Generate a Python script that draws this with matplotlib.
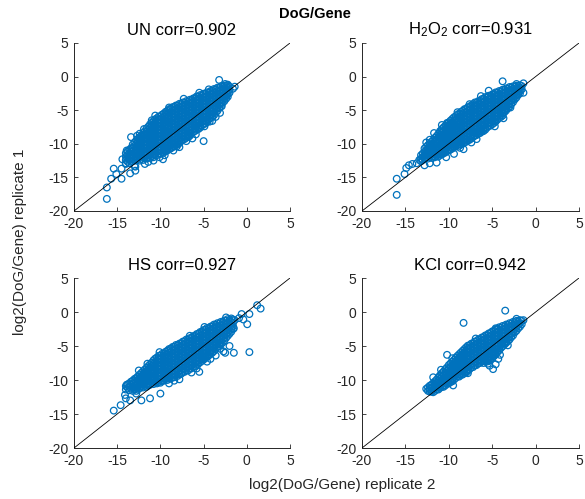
import matplotlib
matplotlib.use("Agg")
import matplotlib.pyplot as plt

plt.rcParams['font.family'] = ['Liberation Sans', 'DejaVu Sans']
plt.rcParams['mathtext.fontset'] = 'custom'
plt.rcParams['mathtext.rm'] = 'Liberation Sans'
plt.rcParams['mathtext.it'] = 'Liberation Sans:italic'
plt.rcParams['mathtext.bf'] = 'Liberation Sans:bold'
plt.rcParams['mathtext.default'] = 'regular'

# ---------------------------------------------------------------------------
# Panel titles and axis ticks
# ---------------------------------------------------------------------------
titles = ["UN corr=0.902", r"H$_2$O$_2$ corr=0.931",
          "HS corr=0.927", "KCl corr=0.942"]
ticks = [-20, -15, -10, -5, 0, 5]
tick_labels = ["-20", "-15", "-10", "-5", "0", "5"]

# ---------------------------------------------------------------------------
# log2(DoG/Gene): replicate 2 (x) vs replicate 1 (y)
# dense part of each cloud, stored column by column (two interleaved sets),
# followed by the scattered points around it
# ---------------------------------------------------------------------------
un_col_x = [-14.0, -13.6, -13.2, -12.8, -12.4, -12.0, -11.6, -11.2, -10.8,
            -10.4, -10.0, -9.6, -9.2, -8.8, -8.4, -8.0, -7.6, -7.2, -6.8,
            -6.4, -6.0, -5.6, -5.2, -4.8, -4.4, -4.0, -3.6, -3.2, -2.8,
            -2.4, -2.0]
un_col_y = [
    [-11.4, -11.9, -12.4, -12.9],
    [-10.9, -11.4, -11.9, -12.4, -12.9],
    [-10.1, -10.6, -11.1, -11.6, -12.1, -12.6],
    [-9.5, -10.0, -10.5, -11.0, -11.5, -12.0, -12.5],
    [-9.0, -9.5, -10.0, -10.5, -11.0, -11.5, -12.0, -12.5],
    [-8.4, -8.9, -9.4, -9.9, -10.4, -10.9, -11.4, -11.9, -12.4],
    [-7.7, -8.2, -8.7, -9.2, -9.7, -10.2, -10.7, -11.2, -11.7, -12.2],
    [-7.1, -7.6, -8.1, -8.6, -9.1, -9.6, -10.1, -10.6, -11.1, -11.6, -12.1],
    [-6.6, -7.1, -7.6, -8.1, -8.6, -9.1, -9.6, -10.1, -10.6, -11.1, -11.6, -12.0],
    [-6.2, -6.7, -7.2, -7.7, -8.2, -8.7, -9.2, -9.7, -10.2, -10.7, -11.2, -11.7],
    [-5.9, -6.4, -6.9, -7.4, -7.9, -8.4, -8.9, -9.4, -9.9, -10.4, -10.9, -11.5],
    [-5.5, -6.0, -6.5, -7.0, -7.5, -8.0, -8.5, -9.0, -9.5, -10.0, -10.5, -11.0, -11.3],
    [-5.1, -5.6, -6.1, -6.6, -7.1, -7.6, -8.1, -8.6, -9.1, -9.6, -10.1, -10.6, -11.0],
    [-4.8, -5.3, -5.8, -6.3, -6.8, -7.3, -7.8, -8.3, -8.8, -9.3, -9.8, -10.3, -10.7],
    [-4.5, -5.0, -5.5, -6.0, -6.5, -7.0, -7.5, -8.0, -8.5, -9.0, -9.5, -10.0, -10.4],
    [-4.3, -4.8, -5.3, -5.8, -6.3, -6.8, -7.3, -7.8, -8.3, -8.8, -9.3, -9.8, -10.1],
    [-4.1, -4.6, -5.1, -5.6, -6.1, -6.6, -7.1, -7.6, -8.1, -8.6, -9.1, -9.6],
    [-3.9, -4.4, -4.9, -5.4, -5.9, -6.4, -6.9, -7.4, -7.9, -8.4, -8.9, -9.3],
    [-3.7, -4.2, -4.7, -5.2, -5.7, -6.2, -6.7, -7.2, -7.7, -8.2, -8.7, -9.0],
    [-3.5, -4.0, -4.5, -5.0, -5.5, -6.0, -6.5, -7.0, -7.5, -8.0, -8.5],
    [-3.2, -3.7, -4.2, -4.7, -5.2, -5.7, -6.2, -6.7, -7.2, -7.7, -8.1],
    [-3.0, -3.5, -4.0, -4.5, -5.0, -5.5, -6.0, -6.5, -7.0, -7.5, -7.8],
    [-2.8, -3.3, -3.8, -4.3, -4.8, -5.3, -5.8, -6.3, -6.8, -7.3],
    [-2.6, -3.1, -3.6, -4.1, -4.6, -5.1, -5.6, -6.1, -6.6, -7.0],
    [-2.4, -2.9, -3.4, -3.9, -4.4, -4.9, -5.4, -5.9, -6.4],
    [-2.1, -2.6, -3.1, -3.6, -4.1, -4.6, -5.1, -5.6, -6.0],
    [-1.9, -2.4, -2.9, -3.4, -3.9, -4.4, -4.9, -5.4],
    [-1.7, -2.2, -2.7, -3.2, -3.7, -4.2, -4.7],
    [-1.5, -2.0, -2.5, -3.0, -3.5, -3.9],
    [-1.4, -1.9, -2.4, -2.9, -3.3],
    [-1.5, -2.0, -2.4],
]
un_mid_x = [-13.8, -13.4, -13.0, -12.6, -12.2, -11.8, -11.4, -11.0, -10.6,
            -10.2, -9.8, -9.4, -9.0, -8.6, -8.2, -7.8, -7.4, -7.0, -6.6,
            -6.2, -5.8, -5.4, -5.0, -4.6, -4.2, -3.8, -3.4, -3.0, -2.6,
            -2.2]
un_mid_y = [
    [-11.15, -11.65, -12.15, -12.65],
    [-10.65, -11.15, -11.65, -12.15, -12.65],
    [-9.85, -10.35, -10.85, -11.35, -11.85, -12.35],
    [-9.25, -9.75, -10.25, -10.75, -11.25, -11.75, -12.25],
    [-8.75, -9.25, -9.75, -10.25, -10.75, -11.25, -11.75, -12.25],
    [-8.15, -8.65, -9.15, -9.65, -10.15, -10.65, -11.15, -11.65, -12.15],
    [-7.45, -7.95, -8.45, -8.95, -9.45, -9.95, -10.45, -10.95, -11.45, -11.95],
    [-6.85, -7.35, -7.85, -8.35, -8.85, -9.35, -9.85, -10.35, -10.85, -11.35, -11.85],
    [-6.35, -6.85, -7.35, -7.85, -8.35, -8.85, -9.35, -9.85, -10.35, -10.85, -11.35, -11.75],
    [-5.95, -6.45, -6.95, -7.45, -7.95, -8.45, -8.95, -9.45, -9.95, -10.45, -10.95, -11.45],
    [-5.65, -6.15, -6.65, -7.15, -7.65, -8.15, -8.65, -9.15, -9.65, -10.15, -10.65, -11.2],
    [-5.25, -5.75, -6.25, -6.75, -7.25, -7.75, -8.25, -8.75, -9.25, -9.75, -10.25, -10.75, -11.1],
    [-4.85, -5.35, -5.85, -6.35, -6.85, -7.35, -7.85, -8.35, -8.85, -9.35, -9.85, -10.35, -10.8],
    [-4.55, -5.05, -5.55, -6.05, -6.55, -7.05, -7.55, -8.05, -8.55, -9.05, -9.55, -10.05, -10.5],
    [-4.3, -4.75, -5.25, -5.75, -6.25, -6.75, -7.25, -7.75, -8.25, -8.75, -9.25, -9.75, -10.2],
    [-4.05, -4.55, -5.05, -5.55, -6.05, -6.55, -7.05, -7.55, -8.05, -8.55, -9.05, -9.55, -9.9],
    [-3.85, -4.35, -4.85, -5.35, -5.85, -6.35, -6.85, -7.35, -7.85, -8.35, -8.85, -9.35],
    [-3.65, -4.15, -4.65, -5.15, -5.65, -6.15, -6.65, -7.15, -7.65, -8.15, -8.65, -9.1],
    [-3.45, -3.95, -4.45, -4.95, -5.45, -5.95, -6.45, -6.95, -7.45, -7.95, -8.45, -8.8],
    [-3.25, -3.75, -4.25, -4.75, -5.25, -5.75, -6.25, -6.75, -7.25, -7.75, -8.25],
    [-2.95, -3.45, -3.95, -4.45, -4.95, -5.45, -5.95, -6.45, -6.95, -7.45, -7.9],
    [-2.75, -3.25, -3.75, -4.25, -4.75, -5.25, -5.75, -6.25, -6.75, -7.25, -7.6],
    [-2.55, -3.05, -3.55, -4.05, -4.55, -5.05, -5.55, -6.05, -6.55, -7.05],
    [-2.35, -2.85, -3.35, -3.85, -4.35, -4.85, -5.35, -5.85, -6.35, -6.75],
    [-2.15, -2.65, -3.15, -3.65, -4.15, -4.65, -5.15, -5.65, -6.15],
    [-1.85, -2.35, -2.85, -3.35, -3.85, -4.35, -4.85, -5.35, -5.75],
    [-1.65, -2.15, -2.65, -3.15, -3.65, -4.15, -4.65, -5.1],
    [-1.45, -1.95, -2.45, -2.95, -3.45, -3.95, -4.4],
    [-1.35, -1.75, -2.25, -2.75, -3.25, -3.65],
    [-1.3, -1.65, -2.15, -2.65, -3.0],
]
un_out_x = [-3.2, -4.4, -5.0, -4.3, -4.0, -9.7, -13.4, -12.4, -12.0, -11.3,
            -15.4, -14.5, -15.1, -15.7, -14.5, -13.5, -12.9, -16.2, -16.2,
            -14.0, -1.6, -1.4, -2.5, -6.7, -7.8, -8.5, -10.8, -11.4, -13.0,
            -14.4, -13.9, -7.3, -5.5, -9.0, -10.6, -11.9, -3.6, -3.1, -2.9,
            -6.3, -11.8, -12.7, -5.9, -8.1, -10.1, -12.9, -2.2, -4.9, -7.0,
            -9.5, -11.0]
un_out_y = [-0.5, -1.9, -9.6, -6.7, -6.6, -12.3, -9.0, -8.5, -8.7, -8.9,
            -13.7, -13.7, -14.5, -15.2, -15.2, -14.4, -14.0, -16.5, -18.2,
            -13.0, -1.8, -1.5, -1.1, -8.9, -10.5, -11.0, -12.5, -12.7, -13.3,
            -12.3, -11.0, -3.3, -2.4, -4.6, -5.8, -7.8, -6.0, -5.4, -4.4,
            -9.2, -13.0, -8.8, -8.6, -10.4, -12.0, -13.4, -1.2, -7.4, -9.6,
            -11.7, -6.5]

h2o2_col_x = [-13.2, -12.8, -12.4, -12.0, -11.6, -11.2, -10.8, -10.4, -10.0,
              -9.6, -9.2, -8.8, -8.4, -8.0, -7.6, -7.2, -6.8, -6.4, -6.0,
              -5.6, -5.2, -4.8, -4.4, -4.0, -3.6, -3.2, -2.8, -2.4, -2.0,
              -1.6]
h2o2_col_y = [
    [-11.7, -12.2, -12.6],
    [-10.7, -11.2, -11.7, -12.2],
    [-10.2, -10.7, -11.2, -11.7, -12.2],
    [-9.7, -10.2, -10.7, -11.2, -11.7, -12.1],
    [-9.1, -9.6, -10.1, -10.6, -11.1, -11.6, -12.0],
    [-8.5, -9.0, -9.5, -10.0, -10.5, -11.0, -11.5, -11.9],
    [-7.8, -8.3, -8.8, -9.3, -9.8, -10.3, -10.8, -11.3, -11.6],
    [-7.3, -7.8, -8.3, -8.8, -9.3, -9.8, -10.3, -10.8, -11.3],
    [-6.8, -7.3, -7.8, -8.3, -8.8, -9.3, -9.8, -10.3, -10.8, -11.0],
    [-6.3, -6.8, -7.3, -7.8, -8.3, -8.8, -9.3, -9.8, -10.3, -10.7],
    [-5.9, -6.4, -6.9, -7.4, -7.9, -8.4, -8.9, -9.4, -9.9, -10.4],
    [-5.5, -6.0, -6.5, -7.0, -7.5, -8.0, -8.5, -9.0, -9.5, -10.0, -10.3],
    [-5.1, -5.6, -6.1, -6.6, -7.1, -7.6, -8.1, -8.6, -9.1, -9.6, -10.0],
    [-4.8, -5.3, -5.8, -6.3, -6.8, -7.3, -7.8, -8.3, -8.8, -9.3, -9.7],
    [-4.5, -5.0, -5.5, -6.0, -6.5, -7.0, -7.5, -8.0, -8.5, -9.0, -9.4],
    [-4.1, -4.6, -5.1, -5.6, -6.1, -6.6, -7.1, -7.6, -8.1, -8.6, -9.0],
    [-3.9, -4.4, -4.9, -5.4, -5.9, -6.4, -6.9, -7.4, -7.9, -8.4, -8.7],
    [-3.6, -4.1, -4.6, -5.1, -5.6, -6.1, -6.6, -7.1, -7.6, -8.1, -8.4],
    [-3.3, -3.8, -4.3, -4.8, -5.3, -5.8, -6.3, -6.8, -7.3, -7.8, -8.1],
    [-3.1, -3.6, -4.1, -4.6, -5.1, -5.6, -6.1, -6.6, -7.1, -7.6],
    [-2.9, -3.4, -3.9, -4.4, -4.9, -5.4, -5.9, -6.4, -6.9, -7.3],
    [-2.6, -3.1, -3.6, -4.1, -4.6, -5.1, -5.6, -6.1, -6.6, -6.9],
    [-2.4, -2.9, -3.4, -3.9, -4.4, -4.9, -5.4, -5.9, -6.4],
    [-2.2, -2.7, -3.2, -3.7, -4.2, -4.7, -5.2, -5.7, -6.0],
    [-2.0, -2.5, -3.0, -3.5, -4.0, -4.5, -5.0, -5.3],
    [-1.8, -2.3, -2.8, -3.3, -3.8, -4.3, -4.7],
    [-1.6, -2.1, -2.6, -3.1, -3.6, -4.1],
    [-1.5, -2.0, -2.5, -3.0, -3.4],
    [-1.4, -1.9, -2.4, -2.7],
    [-1.4, -1.9],
]
h2o2_mid_x = [-13.0, -12.6, -12.2, -11.8, -11.4, -11.0, -10.6, -10.2, -9.8,
              -9.4, -9.0, -8.6, -8.2, -7.8, -7.4, -7.0, -6.6, -6.2, -5.8,
              -5.4, -5.0, -4.6, -4.2, -3.8, -3.4, -3.0, -2.6, -2.2, -1.8]
h2o2_mid_y = [
    [-11.45, -11.95, -12.4],
    [-10.45, -10.95, -11.45, -11.95],
    [-9.95, -10.45, -10.95, -11.45, -11.95],
    [-9.45, -9.95, -10.45, -10.95, -11.45, -11.85],
    [-8.85, -9.35, -9.85, -10.35, -10.85, -11.35, -11.75],
    [-8.25, -8.75, -9.25, -9.75, -10.25, -10.75, -11.25, -11.65],
    [-7.55, -8.05, -8.55, -9.05, -9.55, -10.05, -10.55, -11.05, -11.4],
    [-7.05, -7.55, -8.05, -8.55, -9.05, -9.55, -10.05, -10.55, -11.05],
    [-6.55, -7.05, -7.55, -8.05, -8.55, -9.05, -9.55, -10.05, -10.55, -10.85],
    [-6.05, -6.55, -7.05, -7.55, -8.05, -8.55, -9.05, -9.55, -10.05, -10.5],
    [-5.65, -6.15, -6.65, -7.15, -7.65, -8.15, -8.65, -9.15, -9.65, -10.15],
    [-5.25, -5.75, -6.25, -6.75, -7.25, -7.75, -8.25, -8.75, -9.25, -9.75, -10.1],
    [-4.85, -5.35, -5.85, -6.35, -6.85, -7.35, -7.85, -8.35, -8.85, -9.35, -9.8],
    [-4.55, -5.05, -5.55, -6.05, -6.55, -7.05, -7.55, -8.05, -8.55, -9.05, -9.5],
    [-4.25, -4.75, -5.25, -5.75, -6.25, -6.75, -7.25, -7.75, -8.25, -8.75, -9.2],
    [-3.85, -4.35, -4.85, -5.35, -5.85, -6.35, -6.85, -7.35, -7.85, -8.35, -8.8],
    [-3.65, -4.15, -4.65, -5.15, -5.65, -6.15, -6.65, -7.15, -7.65, -8.15, -8.5],
    [-3.35, -3.85, -4.35, -4.85, -5.35, -5.85, -6.35, -6.85, -7.35, -7.85, -8.2],
    [-3.05, -3.55, -4.05, -4.55, -5.05, -5.55, -6.05, -6.55, -7.05, -7.55, -7.9],
    [-2.85, -3.35, -3.85, -4.35, -4.85, -5.35, -5.85, -6.35, -6.85, -7.35],
    [-2.65, -3.15, -3.65, -4.15, -4.65, -5.15, -5.65, -6.15, -6.65, -7.1],
    [-2.35, -2.85, -3.35, -3.85, -4.35, -4.85, -5.35, -5.85, -6.35, -6.7],
    [-2.15, -2.65, -3.15, -3.65, -4.15, -4.65, -5.15, -5.65, -6.15],
    [-1.95, -2.45, -2.95, -3.45, -3.95, -4.45, -4.95, -5.45, -5.8],
    [-1.75, -2.25, -2.75, -3.25, -3.75, -4.25, -4.75, -5.05],
    [-1.55, -2.05, -2.55, -3.05, -3.55, -4.05, -4.45],
    [-1.45, -1.85, -2.35, -2.85, -3.35, -3.8],
    [-1.35, -1.75, -2.25, -2.75, -3.1],
    [-1.3, -1.65, -2.15, -2.5],
]
h2o2_out_x = [-3.8, -5.4, -1.4, -1.4, -5.4, -8.3, -11.0, -11.0, -14.9, -14.6,
              -13.7, -12.8, -16.0, -16.0, -13.4, -12.2, -11.4, -10.3, -9.4,
              -12.2, -11.7, -10.2, -9.0, -7.6, -4.7, -3.7, -2.9, -6.8, -14.2,
              -15.1, -2.2, -6.3, -8.7, -7.4, -10.8, -12.6]
h2o2_out_y = [-0.7, -2.1, -1.0, -2.4, -6.9, -10.8, -8.1, -8.9, -13.6, -13.2,
              -12.9, -13.2, -15.2, -17.6, -12.4, -12.9, -12.8, -12.0, -11.5,
              -9.4, -8.4, -6.9, -5.3, -4.1, -7.4, -6.2, -4.6, -9.3, -13.0,
              -14.5, -1.1, -2.9, -10.6, -9.8, -7.2, -9.8]

hs_col_x = [-14.0, -13.6, -13.2, -12.8, -12.4, -12.0, -11.6, -11.2, -10.8,
            -10.4, -10.0, -9.6, -9.2, -8.8, -8.4, -8.0, -7.6, -7.2, -6.8,
            -6.4, -6.0, -5.6, -5.2, -4.8, -4.4, -4.0, -3.6, -3.2, -2.8,
            -2.4, -2.0, -1.6]
hs_col_y = [
    [-10.9, -11.4],
    [-10.5, -11.0, -11.5],
    [-10.1, -10.6, -11.1, -11.6],
    [-9.7, -10.2, -10.7, -11.2, -11.6],
    [-9.2, -9.7, -10.2, -10.7, -11.2],
    [-8.7, -9.2, -9.7, -10.2, -10.7, -11.1],
    [-8.2, -8.7, -9.2, -9.7, -10.2, -10.7, -11.0],
    [-7.7, -8.2, -8.7, -9.2, -9.7, -10.2, -10.7],
    [-7.1, -7.6, -8.1, -8.6, -9.1, -9.6, -10.1, -10.6],
    [-6.7, -7.2, -7.7, -8.2, -8.7, -9.2, -9.7, -10.2, -10.5],
    [-6.4, -6.9, -7.4, -7.9, -8.4, -8.9, -9.4, -9.9, -10.4],
    [-6.1, -6.6, -7.1, -7.6, -8.1, -8.6, -9.1, -9.6, -10.1],
    [-5.7, -6.2, -6.7, -7.2, -7.7, -8.2, -8.7, -9.2, -9.7, -10.0],
    [-5.4, -5.9, -6.4, -6.9, -7.4, -7.9, -8.4, -8.9, -9.4, -9.8],
    [-5.1, -5.6, -6.1, -6.6, -7.1, -7.6, -8.1, -8.6, -9.1, -9.6],
    [-4.9, -5.4, -5.9, -6.4, -6.9, -7.4, -7.9, -8.4, -8.9, -9.4],
    [-4.6, -5.1, -5.6, -6.1, -6.6, -7.1, -7.6, -8.1, -8.6, -9.1],
    [-4.3, -4.8, -5.3, -5.8, -6.3, -6.8, -7.3, -7.8, -8.3, -8.8],
    [-4.1, -4.6, -5.1, -5.6, -6.1, -6.6, -7.1, -7.6, -8.1, -8.6],
    [-3.8, -4.3, -4.8, -5.3, -5.8, -6.3, -6.8, -7.3, -7.8, -8.3],
    [-3.5, -4.0, -4.5, -5.0, -5.5, -6.0, -6.5, -7.0, -7.5, -8.0],
    [-3.2, -3.7, -4.2, -4.7, -5.2, -5.7, -6.2, -6.7, -7.2, -7.6],
    [-2.9, -3.4, -3.9, -4.4, -4.9, -5.4, -5.9, -6.4, -6.9, -7.2],
    [-2.6, -3.1, -3.6, -4.1, -4.6, -5.1, -5.6, -6.1, -6.6, -6.8],
    [-2.4, -2.9, -3.4, -3.9, -4.4, -4.9, -5.4, -5.9, -6.4],
    [-2.1, -2.6, -3.1, -3.6, -4.1, -4.6, -5.1, -5.6, -6.0],
    [-1.9, -2.4, -2.9, -3.4, -3.9, -4.4, -4.9, -5.4],
    [-1.7, -2.2, -2.7, -3.2, -3.7, -4.2, -4.7, -5.0],
    [-1.5, -2.0, -2.5, -3.0, -3.5, -4.0, -4.5],
    [-1.3, -1.8, -2.3, -2.8, -3.3, -3.8],
    [-1.2, -1.7, -2.2, -2.7, -3.2],
    [-1.1, -1.6, -2.1, -2.5],
]
hs_mid_x = [-13.8, -13.4, -13.0, -12.6, -12.2, -11.8, -11.4, -11.0, -10.6,
            -10.2, -9.8, -9.4, -9.0, -8.6, -8.2, -7.8, -7.4, -7.0, -6.6,
            -6.2, -5.8, -5.4, -5.0, -4.6, -4.2, -3.8, -3.4, -3.0, -2.6,
            -2.2, -1.8]
hs_mid_y = [
    [-10.65, -11.15],
    [-10.25, -10.75, -11.25],
    [-9.85, -10.35, -10.85, -11.35],
    [-9.45, -9.95, -10.45, -10.95, -11.4],
    [-8.95, -9.45, -9.95, -10.45, -10.95],
    [-8.45, -8.95, -9.45, -9.95, -10.45, -10.85],
    [-7.95, -8.45, -8.95, -9.45, -9.95, -10.45, -10.8],
    [-7.45, -7.95, -8.45, -8.95, -9.45, -9.95, -10.45],
    [-6.85, -7.35, -7.85, -8.35, -8.85, -9.35, -9.85, -10.35],
    [-6.45, -6.95, -7.45, -7.95, -8.45, -8.95, -9.45, -9.95, -10.3],
    [-6.15, -6.65, -7.15, -7.65, -8.15, -8.65, -9.15, -9.65, -10.15],
    [-5.85, -6.35, -6.85, -7.35, -7.85, -8.35, -8.85, -9.35, -9.85],
    [-5.45, -5.95, -6.45, -6.95, -7.45, -7.95, -8.45, -8.95, -9.45, -9.8],
    [-5.15, -5.65, -6.15, -6.65, -7.15, -7.65, -8.15, -8.65, -9.15, -9.6],
    [-4.85, -5.35, -5.85, -6.35, -6.85, -7.35, -7.85, -8.35, -8.85, -9.35],
    [-4.65, -5.15, -5.65, -6.15, -6.65, -7.15, -7.65, -8.15, -8.65, -9.15],
    [-4.35, -4.85, -5.35, -5.85, -6.35, -6.85, -7.35, -7.85, -8.35, -8.85],
    [-4.05, -4.55, -5.05, -5.55, -6.05, -6.55, -7.05, -7.55, -8.05, -8.55],
    [-3.85, -4.35, -4.85, -5.35, -5.85, -6.35, -6.85, -7.35, -7.85, -8.35],
    [-3.55, -4.05, -4.55, -5.05, -5.55, -6.05, -6.55, -7.05, -7.55, -8.05],
    [-3.25, -3.75, -4.25, -4.75, -5.25, -5.75, -6.25, -6.75, -7.25, -7.75],
    [-2.95, -3.45, -3.95, -4.45, -4.95, -5.45, -5.95, -6.45, -6.95, -7.4],
    [-2.65, -3.15, -3.65, -4.15, -4.65, -5.15, -5.65, -6.15, -6.65, -7.0],
    [-2.35, -2.85, -3.35, -3.85, -4.35, -4.85, -5.35, -5.85, -6.35, -6.6],
    [-2.15, -2.65, -3.15, -3.65, -4.15, -4.65, -5.15, -5.65, -6.15],
    [-1.85, -2.35, -2.85, -3.35, -3.85, -4.35, -4.85, -5.35, -5.75],
    [-1.65, -2.15, -2.65, -3.15, -3.65, -4.15, -4.65, -5.15],
    [-1.45, -1.95, -2.45, -2.95, -3.45, -3.95, -4.45, -4.75],
    [-1.25, -1.75, -2.25, -2.75, -3.25, -3.75, -4.2],
    [-1.05, -1.55, -2.05, -2.55, -3.05, -3.5],
    [-0.95, -1.45, -1.95, -2.45, -2.9],
]
hs_out_x = [1.2, 1.6, 0.3, 0.3, 0.05, -0.6, -1.4, -1.5, -1.5, -2.5, -2.0,
            -3.1, -4.9, -5.5, -10.0, -11.2, -12.2, -14.1, -13.9, -13.5,
            -14.6, -15.4, -4.2, -3.6, -4.6, -6.4, -7.8, -9.0, -11.5, -10.1,
            -6.6, -2.4, -0.9, -14.0, -12.8, -0.4, -2.7, -8.4, -5.8, -12.5]
hs_out_y = [1.0, 0.5, -5.9, -0.3, -1.8, -0.3, -1.2, -2.4, -6.0, -6.0, -5.0,
            -5.4, -2.2, -8.8, -12.0, -12.7, -13.0, -12.2, -10.7, -13.0,
            -13.7, -14.5, -6.9, -6.4, -7.3, -8.9, -9.9, -10.5, -7.6, -5.9,
            -3.5, -0.8, -0.9, -12.7, -12.0, -1.1, -5.8, -10.1, -8.3, -8.6]

kcl_col_x = [-12.4, -12.0, -11.6, -11.2, -10.8, -10.4, -10.0, -9.6, -9.2,
             -8.8, -8.4, -8.0, -7.6, -7.2, -6.8, -6.4, -6.0, -5.6, -5.2,
             -4.8, -4.4, -4.0, -3.6, -3.2, -2.8, -2.4, -2.0, -1.6]
kcl_col_y = [
    [-11.1, -11.6],
    [-10.7, -11.2, -11.7],
    [-10.2, -10.7, -11.2, -11.6],
    [-9.6, -10.1, -10.6, -11.1, -11.4],
    [-9.0, -9.5, -10.0, -10.5, -11.0],
    [-8.4, -8.9, -9.4, -9.9, -10.4, -10.8],
    [-7.8, -8.3, -8.8, -9.3, -9.8, -10.3, -10.5],
    [-7.3, -7.8, -8.3, -8.8, -9.3, -9.8, -10.2],
    [-6.7, -7.2, -7.7, -8.2, -8.7, -9.2, -9.7],
    [-6.2, -6.7, -7.2, -7.7, -8.2, -8.7, -9.2, -9.5],
    [-5.7, -6.2, -6.7, -7.2, -7.7, -8.2, -8.7, -9.2],
    [-5.2, -5.7, -6.2, -6.7, -7.2, -7.7, -8.2, -8.7, -8.9],
    [-4.9, -5.4, -5.9, -6.4, -6.9, -7.4, -7.9, -8.4],
    [-4.6, -5.1, -5.6, -6.1, -6.6, -7.1, -7.6, -8.1],
    [-4.3, -4.8, -5.3, -5.8, -6.3, -6.8, -7.3, -7.8],
    [-4.0, -4.5, -5.0, -5.5, -6.0, -6.5, -7.0, -7.5],
    [-3.7, -4.2, -4.7, -5.2, -5.7, -6.2, -6.7, -7.2, -7.5],
    [-3.4, -3.9, -4.4, -4.9, -5.4, -5.9, -6.4, -6.9, -7.3],
    [-3.1, -3.6, -4.1, -4.6, -5.1, -5.6, -6.1, -6.6, -7.0],
    [-2.8, -3.3, -3.8, -4.3, -4.8, -5.3, -5.8, -6.3, -6.5],
    [-2.5, -3.0, -3.5, -4.0, -4.5, -5.0, -5.5, -5.9],
    [-2.3, -2.8, -3.3, -3.8, -4.3, -4.8, -5.3],
    [-2.1, -2.6, -3.1, -3.6, -4.1, -4.6, -4.8],
    [-1.9, -2.4, -2.9, -3.4, -3.9, -4.3],
    [-1.7, -2.2, -2.7, -3.2, -3.7],
    [-1.5, -2.0, -2.5, -3.0],
    [-1.4, -1.9, -2.4],
    [-1.3, -1.8],
]
kcl_mid_x = [-12.2, -11.8, -11.4, -11.0, -10.6, -10.2, -9.8, -9.4, -9.0,
             -8.6, -8.2, -7.8, -7.4, -7.0, -6.6, -6.2, -5.8, -5.4, -5.0,
             -4.6, -4.2, -3.8, -3.4, -3.0, -2.6, -2.2, -1.8]
kcl_mid_y = [
    [-10.85, -11.35],
    [-10.45, -10.95, -11.45],
    [-9.95, -10.45, -10.95, -11.35],
    [-9.35, -9.85, -10.35, -10.85, -11.15],
    [-8.75, -9.25, -9.75, -10.25, -10.75],
    [-8.15, -8.65, -9.15, -9.65, -10.15, -10.55],
    [-7.55, -8.05, -8.55, -9.05, -9.55, -10.05, -10.3],
    [-7.05, -7.55, -8.05, -8.55, -9.05, -9.55, -9.95],
    [-6.45, -6.95, -7.45, -7.95, -8.45, -8.95, -9.45],
    [-5.95, -6.45, -6.95, -7.45, -7.95, -8.45, -8.95, -9.25],
    [-5.45, -5.95, -6.45, -6.95, -7.45, -7.95, -8.45, -8.95],
    [-4.95, -5.45, -5.95, -6.45, -6.95, -7.45, -7.95, -8.45, -8.65],
    [-4.65, -5.15, -5.65, -6.15, -6.65, -7.15, -7.65, -8.15],
    [-4.35, -4.85, -5.35, -5.85, -6.35, -6.85, -7.35, -7.85],
    [-4.05, -4.55, -5.05, -5.55, -6.05, -6.55, -7.05, -7.55],
    [-3.75, -4.25, -4.75, -5.25, -5.75, -6.25, -6.75, -7.25],
    [-3.45, -3.95, -4.45, -4.95, -5.45, -5.95, -6.45, -6.95, -7.25],
    [-3.15, -3.65, -4.15, -4.65, -5.15, -5.65, -6.15, -6.65, -7.05],
    [-2.85, -3.35, -3.85, -4.35, -4.85, -5.35, -5.85, -6.35, -6.75],
    [-2.55, -3.05, -3.55, -4.05, -4.55, -5.05, -5.55, -6.05, -6.25],
    [-2.25, -2.75, -3.25, -3.75, -4.25, -4.75, -5.25, -5.65],
    [-2.05, -2.55, -3.05, -3.55, -4.05, -4.55, -5.05],
    [-1.85, -2.35, -2.85, -3.35, -3.85, -4.35, -4.55],
    [-1.65, -2.15, -2.65, -3.15, -3.65, -4.05],
    [-1.45, -1.95, -2.45, -2.95, -3.45],
    [-1.3, -1.75, -2.25, -2.75],
    [-1.2, -1.65, -2.15],
]
kcl_out_x = [-3.5, -8.3, -10.2, -4.9, -4.1, -5.5, -4.6, -12.6, -12.2, -11.8,
             -1.4, -4.6, -11.0, -11.8, -10.6, -9.5, -4.3, -3.2, -6.9, -9.6,
             -2.2, -5.3, -5.4, -7.8, -10.9]
kcl_out_y = [0.2, -1.6, -6.3, -8.4, -6.3, -7.6, -7.7, -11.3, -11.7, -11.8,
             -1.2, -2.4, -9.3, -9.6, -11.0, -10.8, -6.9, -4.9, -3.9, -6.8,
             -1.0, -7.9, -7.2, -9.0, -8.5]


def columns(col_x, col_y):
    xs = [x for x, ys in zip(col_x, col_y) for _ in ys]
    ys = [y for ys in col_y for y in ys]
    return xs, ys


def gather(col_x, col_y, mid_x, mid_y, out_x, out_y):
    ax_, ay_ = columns(col_x, col_y)
    bx_, by_ = columns(mid_x, mid_y)
    return ax_ + bx_ + list(out_x), ay_ + by_ + list(out_y)


panels = [
    gather(un_col_x, un_col_y, un_mid_x, un_mid_y, un_out_x, un_out_y),
    gather(h2o2_col_x, h2o2_col_y, h2o2_mid_x, h2o2_mid_y,
           h2o2_out_x, h2o2_out_y),
    gather(hs_col_x, hs_col_y, hs_mid_x, hs_mid_y, hs_out_x, hs_out_y),
    gather(kcl_col_x, kcl_col_y, kcl_mid_x, kcl_mid_y, kcl_out_x, kcl_out_y),
]

W, H = 585, 499
fig = plt.figure(figsize=(W / 100, H / 100), dpi=100)

# axes boxes in pixels: left, top, right, bottom
boxes = [(74, 43, 290, 211), (362, 43, 579, 211),
         (74, 278, 290, 448), (362, 278, 579, 448)]

blue = "#0072BD"
dark = "#262626"

for (xs, ys), title, (l, t, r, b) in zip(panels, titles, boxes):
    ax = fig.add_axes([l / W, 1 - b / H, (r - l) / W, (b - t) / H])
    ax.scatter(xs, ys, s=23, facecolors="none", edgecolors=blue,
               linewidths=0.9, zorder=2)
    ax.plot([-20, 5], [-20, 5], color="black", lw=0.6, zorder=3)
    ax.set_xlim(-20, 5)
    ax.set_ylim(-20, 5)
    ax.set_xticks(ticks)
    ax.set_xticklabels(tick_labels)
    ax.set_yticks(ticks)
    ax.set_yticklabels(tick_labels)
    for side in ("top", "right"):
        ax.spines[side].set_visible(False)
    for side in ("left", "bottom"):
        ax.spines[side].set_color(dark)
        ax.spines[side].set_linewidth(0.7)
    ax.tick_params(direction="in", length=3, width=0.6, colors=dark,
                   labelsize=10, pad=4)
    ax.set_title(title, fontsize=12, pad=6, color="black")

fig.text(314.5 / W, 1 - 14 / H, "DoG/Gene", ha="center", va="center",
         fontsize=10.5, fontweight="bold")
fig.text(342 / W, 1 - 485 / H, "log2(DoG/Gene) replicate 2", ha="center",
         va="center", fontsize=11, color=dark)
fig.text(20 / W, 1 - 242 / H, "log2(DoG/Gene) replicate 1", ha="center",
         va="center", fontsize=11, rotation=90, color=dark)

fig.savefig("out.png", dpi=100)
